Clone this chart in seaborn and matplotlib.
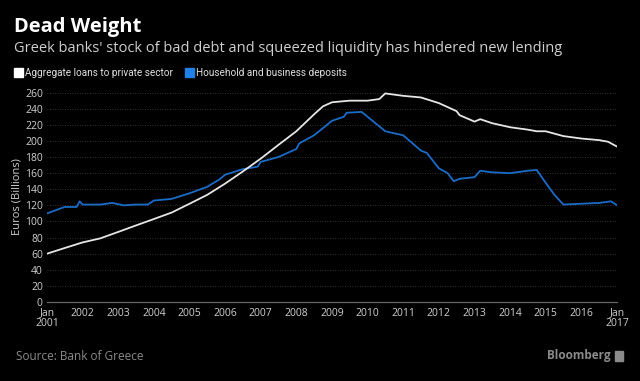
import numpy as np
import pandas as pd
import matplotlib.pyplot as plt
import matplotlib.dates as mdates
import seaborn as sns

# loans to private sector (white line), EUR billions
loan_dates = ["2001-01", "2001-07", "2002-01", "2002-07", "2003-01", "2003-07", "2004-01", "2004-07",
              "2005-01", "2005-07", "2006-01", "2006-07", "2007-01", "2007-07", "2008-01", "2008-07",
              "2008-10", "2009-01", "2009-07", "2010-01", "2010-05", "2010-07", "2011-01", "2011-07",
              "2012-01", "2012-07", "2012-08", "2013-01", "2013-03", "2013-07", "2014-01", "2014-07",
              "2014-10", "2015-01", "2015-07", "2016-01", "2016-07", "2016-10", "2017-01"]
loan_vals = [60, 67, 74, 79, 87, 95, 103, 111,
             122, 133, 147, 162, 178, 195, 212, 233,
             243, 248, 250, 250, 252, 259, 256, 254,
             247, 237, 232, 224, 227, 222, 217, 214,
             212, 212, 206, 203, 201, 199, 193]

# household and business deposits (blue line)
dep_dates = ["2001-01", "2001-07", "2001-11", "2001-12", "2002-01", "2002-07", "2002-11", "2003-03",
             "2003-07", "2003-11", "2004-01", "2004-07", "2005-01", "2005-07", "2005-11", "2006-01",
             "2006-07", "2006-12", "2007-01", "2007-07", "2008-01", "2008-02", "2008-07", "2009-01",
             "2009-05", "2009-06", "2009-11", "2010-01", "2010-07", "2011-01", "2011-07", "2011-09",
             "2012-01", "2012-04", "2012-06", "2012-08", "2013-01", "2013-03", "2013-07", "2014-01",
             "2014-07", "2014-10", "2015-01", "2015-04", "2015-07", "2016-01", "2016-07", "2016-11",
             "2017-01"]
dep_vals = [110, 118, 118, 125, 121, 121, 123, 120,
            121, 121, 126, 128, 135, 143, 152, 158,
            165, 168, 174, 180, 190, 197, 207, 225,
            230, 235, 236, 230, 212, 207, 188, 185,
            166, 160, 150, 153, 155, 163, 161, 160,
            163, 164, 148, 133, 121, 122, 123, 125,
            120]

yticks = list(range(0, 261, 20))
xtick_years = list(range(2001, 2018))
xtick_labels = ["Jan\n2001"] + [str(y) for y in range(2002, 2017)] + ["Jan\n2017"]

loans = pd.DataFrame({"date": pd.to_datetime(loan_dates), "value": loan_vals})
deps = pd.DataFrame({"date": pd.to_datetime(dep_dates), "value": dep_vals})

sns.set_theme(style="dark")
plt.rcParams["font.family"] = ["Open Sans", "DejaVu Sans"]

fig = plt.figure(figsize=(6.4, 3.81), dpi=100, facecolor="black")
ax = fig.add_axes([47 / 640, 1 - 302 / 381, 570 / 640, 211 / 381])
ax.set_facecolor("black")

sns.lineplot(data=deps, x="date", y="value", ax=ax, color="#1a6cc8", lw=1.3)
sns.lineplot(data=loans, x="date", y="value", ax=ax, color="#e6e6e6", lw=1.3)

ax.set_xlim(pd.Timestamp("2001-01-01"), pd.Timestamp("2017-01-01"))
ax.set_ylim(0, 262)
ax.set_yticks(yticks)
ax.set_xticks([pd.Timestamp(f"{y}-01-01") for y in xtick_years])
ax.set_xticklabels(xtick_labels)
ax.tick_params(axis="both", colors="#d0d0d0", labelsize=7.5, length=3, pad=1)
ax.tick_params(axis="y", length=0, pad=3)
ax.tick_params(axis="x", color="#666666", width=0.8)
for lbl in ax.get_xticklabels():
    lbl.set_linespacing(0.95)
ax.grid(axis="y", color="#444444", ls=(0, (1, 2)), lw=0.6)
ax.grid(axis="x", visible=False)
for s in ["top", "right", "left"]:
    ax.spines[s].set_visible(False)
ax.spines["bottom"].set_color("#666666")
ax.spines["bottom"].set_linewidth(0.9)
ax.set_xlabel("")
ax.set_ylabel("Euros (Billions)", color="#d0d0d0", fontsize=8, labelpad=2)

fig.text(14 / 640, 1 - 27 / 381, "Dead Weight", color="white", fontsize=14.5,
         fontweight="bold", va="center")
fig.text(14 / 640, 1 - 49 / 381, "Greek banks' stock of bad debt and squeezed liquidity has hindered new lending",
         color="#cfcfcf", fontsize=10.5, va="center")

# legend drawn by hand, second entry placed after the first
leg_y = 1 - 72.5 / 381
fig.patches.append(plt.Rectangle((14 / 640, 1 - 77 / 381), 9 / 640, 9 / 381,
                                 transform=fig.transFigure, color="white"))
t1 = fig.text(25 / 640, leg_y, "Aggregate loans to private sector", color="#e0e0e0",
              fontsize=7.2, va="center", family=["Roboto", "DejaVu Sans"])
renderer = fig.canvas.get_renderer()
x2 = t1.get_window_extent(renderer).x1 + 12
fig.patches.append(plt.Rectangle((x2 / 640, 1 - 77 / 381), 9 / 640, 9 / 381,
                                 transform=fig.transFigure, color="#1f80e8"))
fig.text((x2 + 11) / 640, leg_y, "Household and business deposits", color="#e0e0e0",
         fontsize=7.2, va="center", family=["Roboto", "DejaVu Sans"])

fig.text(16 / 640, 1 - 357 / 381, "Source: Bank of Greece", color="#8a8a8a", fontsize=8.5, va="center")
fig.text(611 / 640, 1 - 356 / 381, "Bloomberg", color="#8a8a8a", fontsize=8.5,
         fontweight="bold", va="center", ha="right")
fig.patches.append(plt.Rectangle((615 / 640, 1 - 361 / 381), 8 / 640, 10 / 381,
                                 transform=fig.transFigure, color="#8a8a8a"))

fig.savefig("out.png", dpi=100, facecolor="black")
